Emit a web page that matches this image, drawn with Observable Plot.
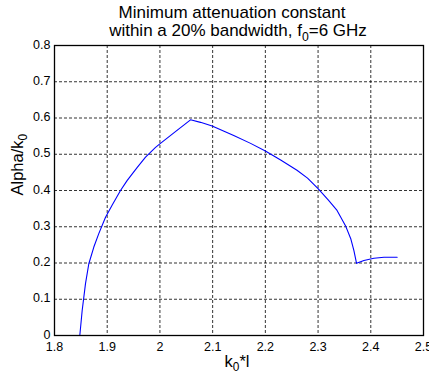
<!DOCTYPE html>
<html>
<head>
<meta charset="utf-8">
<script src="https://cdn.jsdelivr.net/npm/d3@7"></script>
<script src="https://cdn.jsdelivr.net/npm/@observablehq/plot@0.6"></script>
<style>
  html, body { margin: 0; padding: 0; background: #fff; }
  svg { display: block; }
</style>
</head>
<body>
<div id="chart"></div>
<script>
// Data
const k0l = [1.802, 1.848, 1.8525, 1.8588, 1.8651, 1.8746, 1.884, 1.8968, 1.9095, 1.9252, 1.938, 1.957, 1.9727, 1.9917, 2.001, 2.030, 2.058, 2.077, 2.099, 2.140, 2.172, 2.200, 2.229, 2.260, 2.280, 2.300, 2.320, 2.336, 2.352, 2.362, 2.368, 2.373, 2.387, 2.406, 2.425, 2.450];
const alphaK0 = [0, 0, 0.069, 0.143, 0.198, 0.244, 0.281, 0.326, 0.360, 0.400, 0.428, 0.464, 0.492, 0.519, 0.530, 0.563, 0.595, 0.588, 0.578, 0.552, 0.530, 0.509, 0.484, 0.456, 0.434, 0.405, 0.373, 0.345, 0.303, 0.267, 0.234, 0.199, 0.207, 0.213, 0.216, 0.216];
const xTicks = [1.8, 1.9, 2.0, 2.1, 2.2, 2.3, 2.4, 2.5];
const yTicks = [0, 0.1, 0.2, 0.3, 0.4, 0.5, 0.6, 0.7, 0.8];
const titleLine1 = "Minimum attenuation constant";
const titleLine2 = "within a 20% bandwidth, f_0=6 GHz";
const xLabel = "k_0*l";
const yLabel = "Alpha/k_0";

const data = k0l.map((x, i) => ({x, y: alphaK0[i]}));
const fmt = d => String(+d.toFixed(1));
const FONT = "'Liberation Sans', Arial, Helvetica, sans-serif";
const gridStyle = {stroke: "#000", strokeOpacity: 0.8, strokeWidth: 1, strokeDasharray: "3,2"};

const chart = Plot.plot({
  width: 429,
  height: 377,
  marginLeft: 54,
  marginRight: 6,
  marginTop: 45,
  marginBottom: 42,
  style: {fontFamily: FONT, background: "#fff", color: "#000"},
  x: {domain: [1.8, 2.5], ticks: xTicks, label: null},
  y: {domain: [0, 0.8], ticks: yTicks, label: null},
  marks: [
    Plot.ruleX(xTicks.slice(1, -1), gridStyle),
    Plot.ruleY(yTicks.slice(1, -1), gridStyle),
    Plot.axisX(xTicks, {tickSize: 0, tickPadding: 6.5, tickFormat: fmt, fontSize: 12.5, label: null, fill: "#000", style: {letterSpacing: "0.8px"}}),
    Plot.axisY(yTicks, {tickSize: 0, tickPadding: 4, tickFormat: fmt, fontSize: 12.5, label: null, fill: "#000", dy: -1, style: {letterSpacing: "0.8px"}}),
    Plot.line(data, {x: "x", y: "y", stroke: "#0000ff", strokeWidth: 1.1}),
    Plot.frame({stroke: "#000", strokeWidth: 1.3}),
    Plot.text([titleLine1], {frameAnchor: "top", dx: -7, dy: -28, lineAnchor: "bottom", fontSize: 17, fill: "#000", text: d => d, style: {letterSpacing: "0.4px"}}),
    Plot.text([titleLine2], {frameAnchor: "top", dx: -1, dy: -10, lineAnchor: "bottom", fontSize: 17, fill: "#000", text: d => d, style: {letterSpacing: "0.4px"}}),
    Plot.text([xLabel], {frameAnchor: "bottom", dx: -2, dy: 31, lineAnchor: "bottom", fontSize: 16.5, fill: "#000", text: d => d}),
    Plot.text([yLabel], {frameAnchor: "left", dx: -32, dy: 5, rotate: -90, lineAnchor: "bottom", fontSize: 16.5, fill: "#000", text: d => d})
  ]
});

// Render "_0" style subscripts as real tspans
d3.select(chart).selectAll("text").each(function() {
  const t = this.textContent;
  if (!t.includes("_")) return;
  const el = d3.select(this);
  const fs = parseFloat(el.attr("font-size") || (this.parentNode && this.parentNode.getAttribute("font-size"))) || 16;
  el.text(null);
  const parts = t.split(/_(.)/);
  parts.forEach((p, i) => {
    if (p === "") return;
    if (i % 2 === 1) {
      el.append("tspan").attr("font-size", fs * 0.72).attr("dy", fs * 0.3).text(p);
    } else {
      const ts = el.append("tspan").text(p);
      if (i > 0) ts.attr("dy", -fs * 0.3);
    }
  });
});
document.getElementById("chart").appendChild(chart);
</script>
</body>
</html>
